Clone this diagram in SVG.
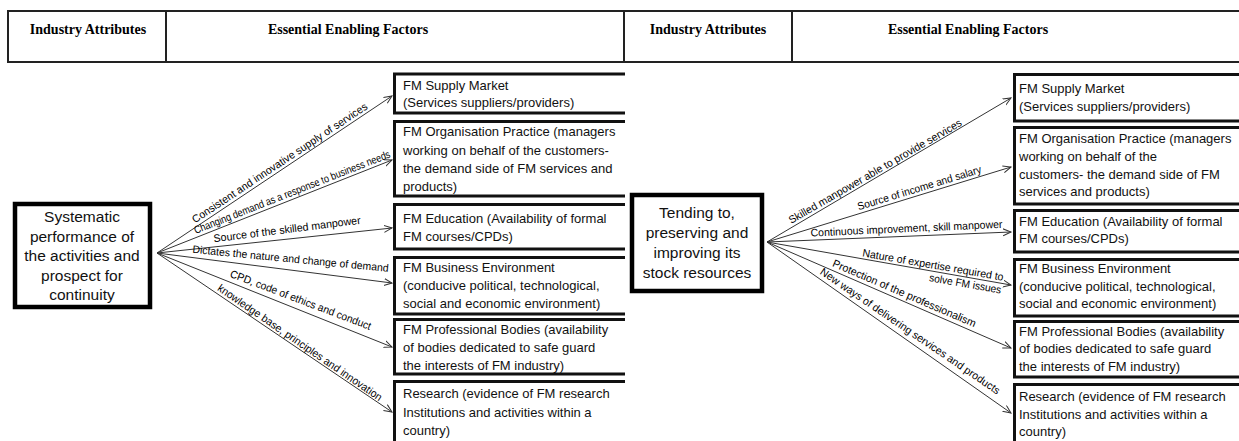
<svg xmlns="http://www.w3.org/2000/svg" width="1239" height="441" viewBox="0 0 1239 441">
<style>
.hdr{font-family:"Liberation Serif",serif;font-weight:bold;font-size:14px;fill:#000;text-anchor:middle}
.hline{fill:none;stroke:#222;stroke-width:2}
.src{fill:#fff;stroke:#000;stroke-width:4.5}
.srct{font-family:"Liberation Sans",Arial,sans-serif;font-size:15.5px;fill:#111;text-anchor:middle}
.box{fill:none;stroke:#111;stroke-width:3}
.bt{font-family:"Liberation Sans",Arial,sans-serif;font-size:13px;fill:#111}
.edge{fill:none;stroke:#333;stroke-width:1}
.lbl{font-family:"Liberation Sans",Arial,sans-serif;font-size:10.8px;fill:#000}
</style>
<defs>
<marker id="arr" markerWidth="10" markerHeight="10" refX="8" refY="4" orient="auto" markerUnits="userSpaceOnUse">
<path d="M0,0.5 L8,4 L0,7.5" fill="none" stroke="#333" stroke-width="1"/>
</marker>
</defs>
<rect width="1239" height="441" fill="#fff"/>

<g id="header-left">
<rect class="hline" x="8" y="11" width="616" height="51"/>
<line class="hline" x1="166" y1="11" x2="166" y2="62"/>
<text class="hdr" x="88" y="34">Industry Attributes</text>
<text class="hdr" x="348" y="34">Essential Enabling Factors</text>
</g>
<g id="header-right">
<rect class="hline" x="624" y="11" width="620" height="51"/>
<line class="hline" x1="792" y1="11" x2="792" y2="62"/>
<text class="hdr" x="708" y="34">Industry Attributes</text>
<text class="hdr" x="968" y="34">Essential Enabling Factors</text>
</g>

<g id="connectors">
<line class="edge" x1="157" y1="253" x2="392" y2="96" marker-end="url(#arr)"/>
<line class="edge" x1="157" y1="253" x2="392" y2="160" marker-end="url(#arr)"/>
<line class="edge" x1="157" y1="253" x2="392" y2="228" marker-end="url(#arr)"/>
<line class="edge" x1="157" y1="253" x2="392" y2="283" marker-end="url(#arr)"/>
<line class="edge" x1="157" y1="253" x2="392" y2="347" marker-end="url(#arr)"/>
<line class="edge" x1="157" y1="253" x2="392" y2="412" marker-end="url(#arr)"/>
<g transform="translate(157,253) rotate(-33.6)"><text class="lbl" x="48" y="-3.5" textLength="208" lengthAdjust="spacingAndGlyphs">Consistent  and innovative supply of  services</text></g>
<g transform="translate(157,253) rotate(-21.5)"><text class="lbl" x="43" y="-3.5" textLength="210" lengthAdjust="spacingAndGlyphs">Changing demand as a response to business needs</text></g>
<g transform="translate(157,253) rotate(-7.2)"><text class="lbl" x="58" y="-3.5" textLength="148" lengthAdjust="spacingAndGlyphs">Source  of the skilled manpower</text></g>
<g transform="translate(157,253) rotate(5.5)"><text class="lbl" x="35" y="-3.5" textLength="197" lengthAdjust="spacingAndGlyphs">Dictates  the nature and  change of demand</text></g>
<g transform="translate(157,253) rotate(20.8)"><text class="lbl" x="76" y="-3.5" textLength="150" lengthAdjust="spacingAndGlyphs">CPD,  code of ethics and conduct</text></g>
<g transform="translate(157,253) rotate(34.5)"><text class="lbl" x="70" y="-3.5" textLength="197" lengthAdjust="spacingAndGlyphs">knowledge base, principles and innovation</text></g>

<line class="edge" x1="767" y1="242" x2="1011" y2="98" marker-end="url(#arr)"/>
<line class="edge" x1="767" y1="242" x2="1011" y2="167" marker-end="url(#arr)"/>
<line class="edge" x1="767" y1="242" x2="1011" y2="232" marker-end="url(#arr)"/>
<line class="edge" x1="767" y1="242" x2="1011" y2="285" marker-end="url(#arr)"/>
<line class="edge" x1="767" y1="242" x2="1011" y2="348" marker-end="url(#arr)"/>
<line class="edge" x1="767" y1="242" x2="1011" y2="413" marker-end="url(#arr)"/>
<g transform="translate(767,242) rotate(-30)"><text class="lbl" x="30" y="-3.5" textLength="198" lengthAdjust="spacingAndGlyphs">Skilled manpower able to provide services</text></g>
<g transform="translate(767,242) rotate(-17)"><text class="lbl" x="97" y="-3.5" textLength="129" lengthAdjust="spacingAndGlyphs">Source of income and salary</text></g>
<g transform="translate(767,242) rotate(-2.6)"><text class="lbl" x="44" y="-3.5" textLength="192" lengthAdjust="spacingAndGlyphs">Continuous  improvement, skill manpower</text></g>
<g transform="translate(767,242) rotate(9.8)"><text class="lbl" x="96" y="-2" textLength="143" lengthAdjust="spacingAndGlyphs">Nature of expertise required to</text><text class="lbl" x="166" y="11" textLength="73" lengthAdjust="spacingAndGlyphs">solve FM issues</text></g>
<g transform="translate(767,242) rotate(23.3)"><text class="lbl" x="69" y="-3.5" textLength="155" lengthAdjust="spacingAndGlyphs">Protection of the professionalism</text></g>
<g transform="translate(767,242) rotate(34.3)"><text class="lbl" x="61" y="-3.5" textLength="215" lengthAdjust="spacingAndGlyphs">New ways of delivering  services and products</text></g>
</g>

<g id="left-source">
<rect class="src" x="15" y="204" width="135" height="103"/>
<text class="srct" x="82" y="222">Systematic</text>
<text class="srct" x="82" y="241.5">performance of</text>
<text class="srct" x="82" y="261">the activities and</text>
<text class="srct" x="82" y="280.5">prospect for</text>
<text class="srct" x="82" y="300">continuity</text>
</g>

<g id="left-supply">
<path class="box" d="M625,74 H394.5 V113 H625"/>
<text class="bt" x="403" y="90">FM Supply Market</text>
<text class="bt" x="403" y="107">(Services suppliers/providers)</text>
</g>
<g id="left-organisation">
<path class="box" d="M625,121.5 H394.5 V196 H625"/>
<text class="bt" x="403" y="136">FM Organisation Practice (managers</text>
<text class="bt" x="403" y="154.5">working on behalf of the customers-</text>
<text class="bt" x="403" y="173">the demand side of FM services and</text>
<text class="bt" x="403" y="190.5">products)</text>
</g>
<g id="left-education">
<path class="box" d="M625,204.5 H394.5 V249 H625"/>
<text class="bt" x="403" y="223">FM Education (Availability of formal</text>
<text class="bt" x="403" y="240.5">FM courses/CPDs)</text>
</g>
<g id="left-business">
<path class="box" d="M625,257.5 H394.5 V314 H625"/>
<text class="bt" x="403" y="272">FM Business Environment</text>
<text class="bt" x="403" y="290">(conducive political, technological,</text>
<text class="bt" x="403" y="307.5">social and economic environment)</text>
</g>
<g id="left-professional">
<path class="box" d="M625,319.5 H394.5 V374 H625"/>
<text class="bt" x="403" y="334">FM Professional  Bodies (availability</text>
<text class="bt" x="403" y="352">of bodies dedicated to safe guard</text>
<text class="bt" x="403" y="369.5">the interests of FM industry)</text>
</g>
<g id="left-research">
<path class="box" d="M625,381.5 H394.5 V450"/>
<text class="bt" x="403" y="398">Research (evidence of  FM research</text>
<text class="bt" x="403" y="416.5">Institutions and activities within a</text>
<text class="bt" x="403" y="434.5">country)</text>
</g>

<g id="right-source">
<rect class="src" x="632" y="195" width="130" height="96"/>
<text class="srct" x="697" y="218">Tending to,</text>
<text class="srct" x="697" y="238">preserving  and</text>
<text class="srct" x="697" y="258">improving its</text>
<text class="srct" x="697" y="278">stock resources</text>
</g>

<g id="right-supply">
<path class="box" d="M1245,74.5 H1014.5 V121 H1245"/>
<text class="bt" x="1019" y="93">FM Supply Market</text>
<text class="bt" x="1019" y="110.5">(Services suppliers/providers)</text>
</g>
<g id="right-organisation">
<path class="box" d="M1245,127.5 H1014.5 V204 H1245"/>
<text class="bt" x="1019" y="143">FM Organisation Practice (managers</text>
<text class="bt" x="1019" y="161">working on behalf of the</text>
<text class="bt" x="1019" y="178.5">customers- the demand side of FM</text>
<text class="bt" x="1019" y="196">services and products)</text>
</g>
<g id="right-education">
<path class="box" d="M1245,210.5 H1014.5 V252 H1245"/>
<text class="bt" x="1019" y="225.5">FM Education (Availability of formal</text>
<text class="bt" x="1019" y="243">FM courses/CPDs)</text>
</g>
<g id="right-business">
<path class="box" d="M1245,259.5 H1014.5 V316 H1245"/>
<text class="bt" x="1019" y="273">FM Business Environment</text>
<text class="bt" x="1019" y="290.5">(conducive political, technological,</text>
<text class="bt" x="1019" y="308">social and economic environment)</text>
</g>
<g id="right-professional">
<path class="box" d="M1245,321.5 H1014.5 V377 H1245"/>
<text class="bt" x="1019" y="335.5">FM Professional Bodies (availability</text>
<text class="bt" x="1019" y="353">of bodies dedicated to safe guard</text>
<text class="bt" x="1019" y="370.5">the interests of FM industry)</text>
</g>
<g id="right-research">
<path class="box" d="M1245,384.5 H1014.5 V450"/>
<text class="bt" x="1019" y="400.5">Research (evidence of  FM research</text>
<text class="bt" x="1019" y="418.5">Institutions and activities within a</text>
<text class="bt" x="1019" y="436">country)</text>
</g>
</svg>
